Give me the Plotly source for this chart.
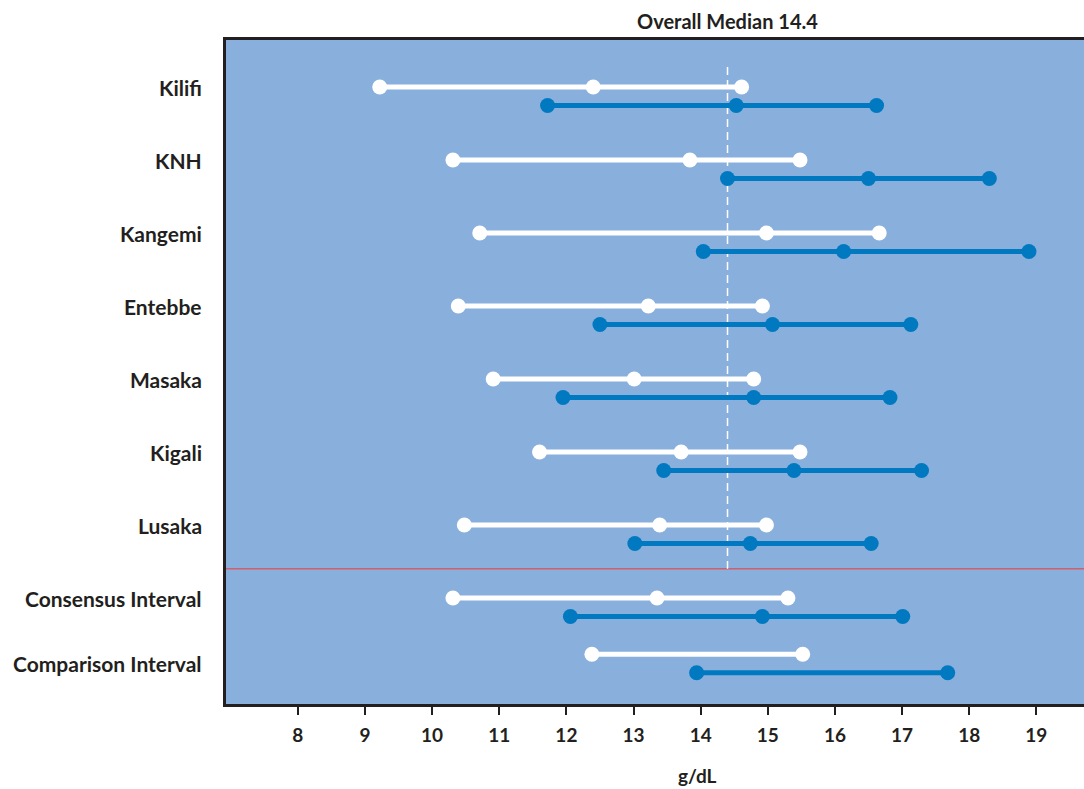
import plotly.graph_objects as go

# Hemoglobin reference intervals (g/dL): lower limit, median, upper limit
sites = ["Kilifi", "KNH", "Kangemi", "Entebbe", "Masaka", "Kigali", "Lusaka",
         "Consensus Interval", "Comparison Interval"]

female_low = [9.22, 10.31, 10.71, 10.39, 10.91, 11.60, 10.48, 10.31, 12.38]
female_mid = [12.40, 13.84, 14.98, 13.22, 13.01, 13.71, 13.39, 13.35, None]
female_high = [14.61, 15.48, 16.66, 14.92, 14.79, 15.48, 14.98, 15.30, 15.52]

male_low = [11.72, 14.40, 14.04, 12.50, 11.95, 13.45, 13.02, 12.06, 13.94]
male_mid = [14.53, 16.50, 16.13, 15.07, 14.79, 15.39, 14.74, 14.92, None]
male_high = [16.62, 18.30, 18.89, 17.13, 16.82, 17.29, 16.54, 17.01, 17.68]

overall_median = 14.4
x_ticks = list(range(8, 20))

# vertical layout of the rows (in row units); the comparison row sits a bit closer
row_y = [0, 1, 2, 3, 4, 5, 6, 7, 7.77]
pair_gap = 0.253
divider_y = 6.60

INK = "#231f20"
BG = "#89afdc"
BLUE = "#0079c1"
FONT = "Lato, Open Sans, sans-serif"


def segments(lows, mids, highs, offset):
    xs, ys = [], []
    for lo, md, hi, y in zip(lows, mids, highs, row_y):
        pts = [v for v in (lo, md, hi) if v is not None]
        xs += pts + [None]
        ys += [y + offset] * len(pts) + [None]
    return xs, ys


fig = go.Figure()

# overall median reference line
fig.add_shape(type="line", x0=overall_median, x1=overall_median, y0=-0.274, y1=divider_y,
              xref="x", yref="y", line=dict(color="white", width=1.5, dash="8px,5px"),
              layer="below")
# divider between sites and summary intervals
fig.add_shape(type="line", x0=0, x1=1, xref="paper", y0=divider_y, y1=divider_y, yref="y",
              line=dict(color="#cf5f6b", width=1.5), layer="below")

fx, fy = segments(female_low, female_mid, female_high, 0)
mx, my = segments(male_low, male_mid, male_high, pair_gap)

fig.add_trace(go.Scatter(x=fx, y=fy, mode="lines+markers", name="Female",
                         line=dict(color="white", width=5),
                         marker=dict(color="white", size=15, line=dict(width=0)),
                         hoverinfo="x", connectgaps=False))
fig.add_trace(go.Scatter(x=mx, y=my, mode="lines+markers", name="Male",
                         line=dict(color=BLUE, width=5),
                         marker=dict(color=BLUE, size=15, line=dict(width=0)),
                         hoverinfo="x", connectgaps=False))

# site labels
for name, y in zip(sites, row_y):
    ly = y + pair_gap / 2 if name == "Comparison Interval" else y
    fig.add_annotation(text=f"<b>{name}</b>", x=0, xref="paper", y=ly, yref="y",
                       xanchor="right", yanchor="middle", xshift=-22, showarrow=False,
                       font=dict(family=FONT, size=21, color=INK))

fig.add_annotation(text=f"<b>Overall Median {overall_median}</b>", x=overall_median, xref="x",
                   y=1, yref="paper", yanchor="bottom", yshift=5, showarrow=False,
                   font=dict(family=FONT, size=20, color=INK))

fig.add_annotation(text="<b>g/dL</b>", x=0.55, xref="paper", y=0, yref="paper",
                   yanchor="middle", yshift=-71, showarrow=False,
                   font=dict(family=FONT, size=19, color=INK))

fig.update_layout(
    width=1084, height=789,
    margin=dict(l=226, r=0, t=40, b=85),
    paper_bgcolor="white", plot_bgcolor=BG,
    showlegend=False,
    xaxis=dict(range=[6.93, 19.71], tickvals=x_ticks,
               ticktext=[f"<b>{t}</b>" for t in x_ticks],
               ticks="outside", ticklen=8, tickwidth=2, tickcolor=INK,
               ticklabelstandoff=4,
               showline=True, linewidth=3, linecolor=INK, mirror=True,
               showgrid=False, zeroline=False,
               tickfont=dict(family=FONT, size=19, color=INK)),
    yaxis=dict(range=[8.452, -0.644], showticklabels=False, ticks="",
               showline=True, linewidth=3, linecolor=INK, mirror=False,
               showgrid=False, zeroline=False),
)

fig.write_html("out.html")
